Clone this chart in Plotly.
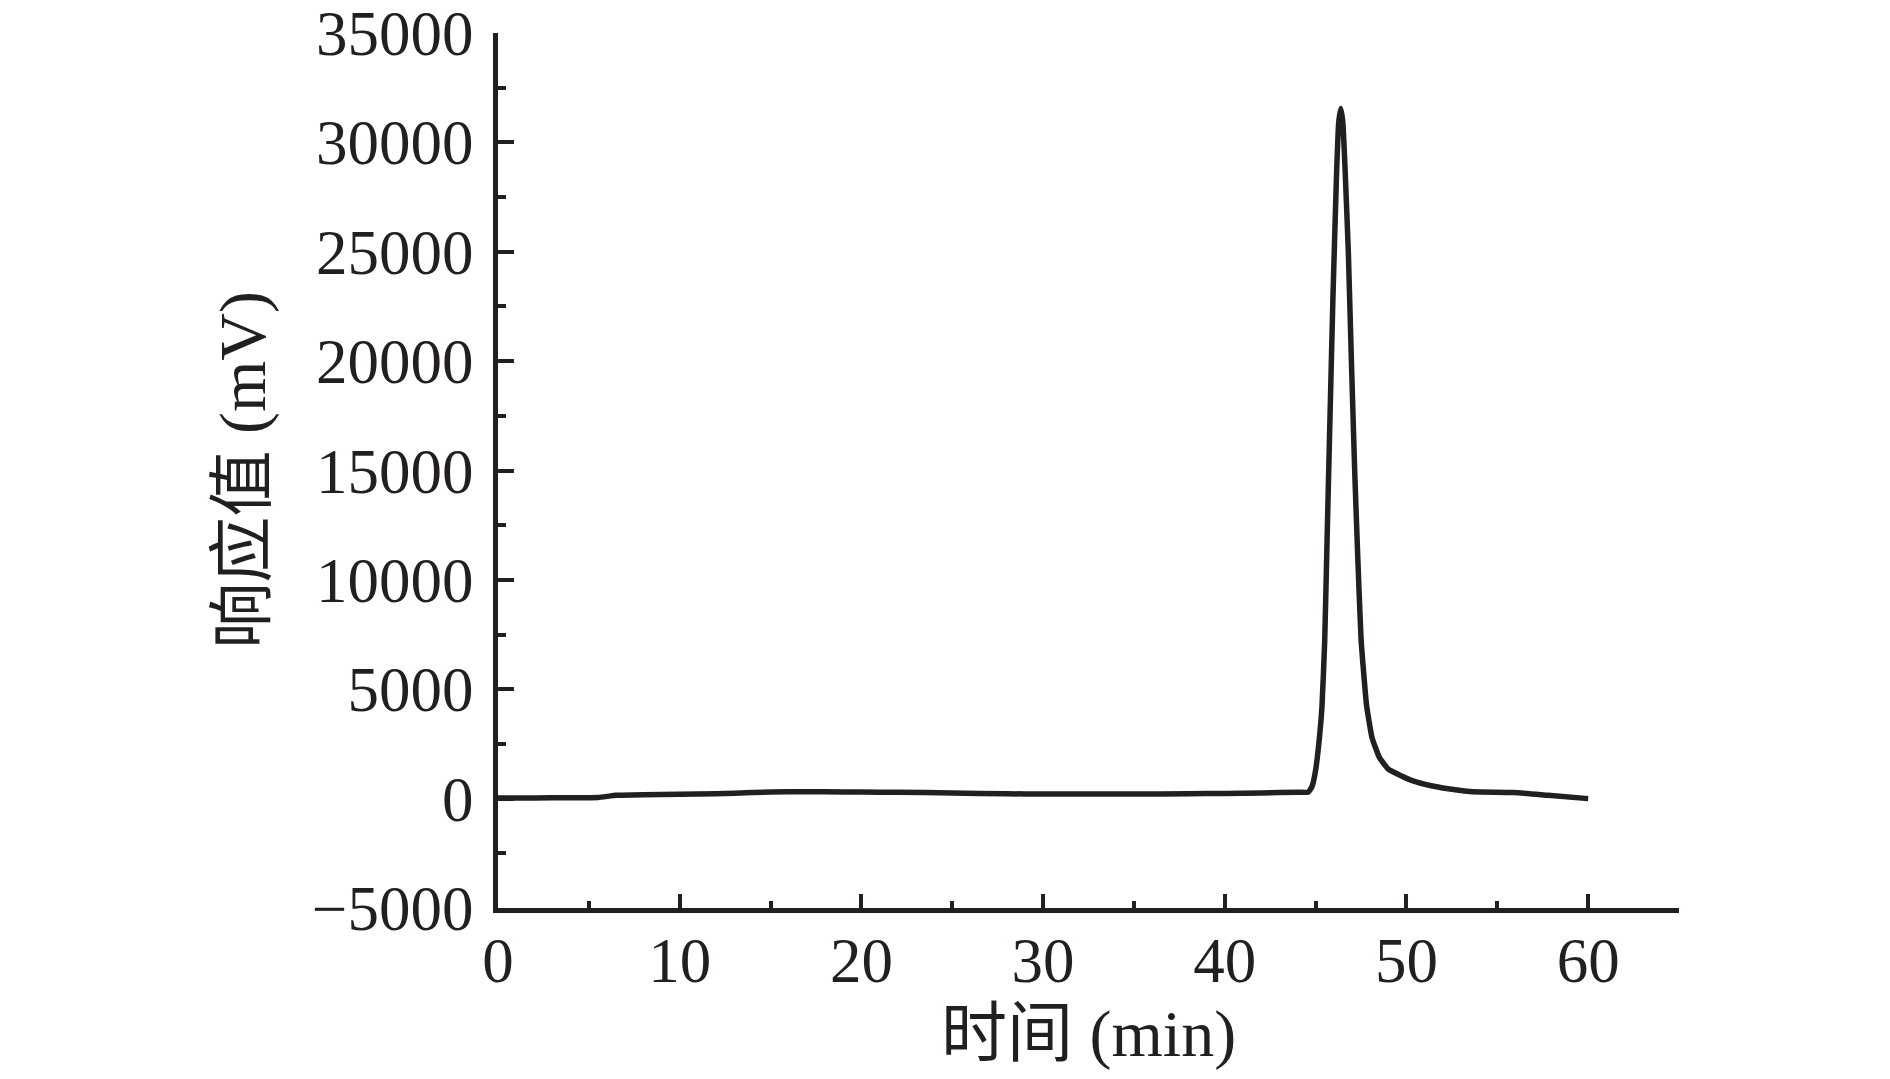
import plotly.graph_objects as go

# Chromatogram trace: retention time (min) and response (mV)
time_min = [0, 2, 4, 5.5, 6.5, 8, 10, 12, 14, 16, 18, 20, 22, 25, 28, 30, 35, 38, 40, 42, 44, 44.6,
            44.8, 45.0, 45.2, 45.35, 45.5, 45.63, 45.75, 45.95, 46.15, 46.27, 46.39, 46.5, 46.62,
            46.8, 46.97, 47.15, 47.3, 47.5, 47.8, 48.1, 48.5, 49.0, 49.7, 50.4, 51.3, 52.3, 53.2,
            54.1, 55.9, 57.8, 60.0]
response_mv = [30, 30, 40, 50, 150, 180, 200, 220, 280, 320, 310, 300, 290, 260, 220, 210, 210, 220, 240, 260, 290, 300,
               550, 1300, 2700, 4200, 7200, 11800, 16000, 22800, 28500, 30900, 31550, 30900, 28800,
               25000, 20000, 15000, 11500, 7300, 4300, 2800, 1900, 1350, 1050, 800, 600, 450, 350,
               300, 280, 150, 0]

x_ticks = [0, 10, 20, 30, 40, 50, 60]
y_ticks = [-5000, 0, 5000, 10000, 15000, 20000, 25000, 30000, 35000]
x_title = "时间 (min)"
y_title = "响应值 (mV)"

ink = "#231f20"
font_family = "Liberation Serif, 'Noto Sans CJK SC', serif"

fig = go.Figure()
fig.add_trace(go.Scatter(
    x=time_min, y=response_mv, mode="lines",
    line=dict(color=ink, width=5.5, shape="spline", smoothing=0.4),
    showlegend=False,
))

fig.update_layout(
    width=1890, height=1079,
    margin=dict(l=490, r=219, t=25, b=179),
    paper_bgcolor="white", plot_bgcolor="white",
    font=dict(family=font_family, color=ink, size=63),
    xaxis=dict(
        range=[0, 65], tickvals=x_ticks, ticktext=[str(v) for v in x_ticks],
        ticks="inside", ticklen=14, tickwidth=4, tickcolor=ink,
        minor=dict(dtick=5, ticks="inside", ticklen=7, tickwidth=4, tickcolor=ink),
        showline=True, linecolor=ink, linewidth=5, showgrid=False, zeroline=False,
        tickfont=dict(size=63, family=font_family, color=ink),
        ticklabelstandoff=-7, automargin=False, ticklabeloverflow="allow",
    ),
    yaxis=dict(
        range=[-5000, 35000.01], tickvals=y_ticks,
        ticktext=[("\u2212" + str(abs(v))) if v < 0 else str(v) for v in y_ticks],
        ticks="inside", ticklen=16, tickwidth=4, tickcolor=ink,
        minor=dict(dtick=2500, ticks="inside", ticklen=8, tickwidth=4, tickcolor=ink),
        showline=True, linecolor=ink, linewidth=5, showgrid=False, zeroline=False,
        tickfont=dict(size=63, family=font_family, color=ink),
        ticklabelstandoff=7, automargin=False, ticklabeloverflow="allow",
    ),
    annotations=[
        dict(text=x_title, xref="paper", yref="paper", x=0.5, y=0,
             xanchor="center", yanchor="middle", yshift=-126, showarrow=False,
             font=dict(size=66, family=font_family, color=ink)),
        dict(text=y_title, xref="paper", yref="paper", x=0, y=0.5,
             xanchor="center", yanchor="middle", xshift=-256, yshift=0,
             textangle=-90, showarrow=False,
             font=dict(size=66, family=font_family, color=ink)),
    ],
)

fig.write_html("out.html")
